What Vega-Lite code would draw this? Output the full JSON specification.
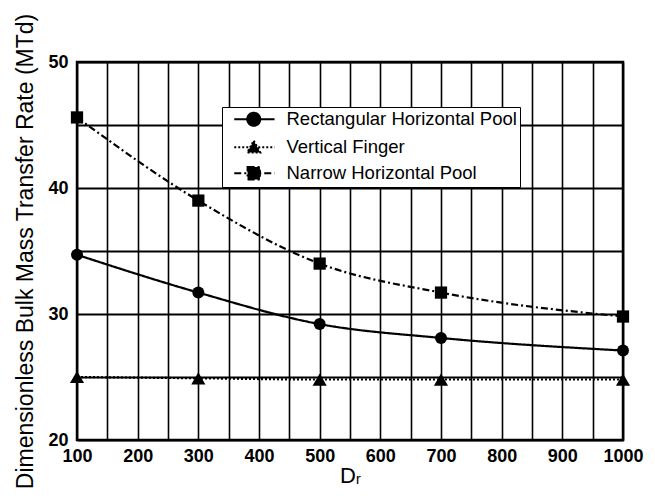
{
  "$schema": "https://vega.github.io/schema/vega-lite/v6.json",
  "width": 546,
  "height": 378,
  "autosize": {"type": "none"},
  "padding": {"left": 77, "top": 62, "right": 32, "bottom": 62},
  "background": "white",
  "config": {
    "view": {"stroke": "black", "strokeWidth": 2.5},
    "font": "Liberation Sans"
  },
  "data": {
    "values": [
      {"series": "Rectangular Horizontal Pool", "Dr": 100, "M": 34.7},
      {"series": "Rectangular Horizontal Pool", "Dr": 300, "M": 31.7},
      {"series": "Rectangular Horizontal Pool", "Dr": 500, "M": 29.2},
      {"series": "Rectangular Horizontal Pool", "Dr": 700, "M": 28.1},
      {"series": "Rectangular Horizontal Pool", "Dr": 1000, "M": 27.1},
      {"series": "Vertical Finger", "Dr": 100, "M": 25.0},
      {"series": "Vertical Finger", "Dr": 300, "M": 24.9},
      {"series": "Vertical Finger", "Dr": 500, "M": 24.8},
      {"series": "Vertical Finger", "Dr": 700, "M": 24.8},
      {"series": "Vertical Finger", "Dr": 1000, "M": 24.8},
      {"series": "Narrow Horizontal Pool", "Dr": 100, "M": 45.6},
      {"series": "Narrow Horizontal Pool", "Dr": 300, "M": 39.0},
      {"series": "Narrow Horizontal Pool", "Dr": 500, "M": 34.0},
      {"series": "Narrow Horizontal Pool", "Dr": 700, "M": 31.7},
      {"series": "Narrow Horizontal Pool", "Dr": 1000, "M": 29.8}
    ]
  },
  "encoding": {
    "x": {
      "field": "Dr",
      "type": "quantitative",
      "scale": {"domain": [100, 1000], "nice": false, "zero": false},
      "axis": {
        "values": [100, 150, 200, 250, 300, 350, 400, 450, 500, 550, 600, 650, 700, 750, 800, 850, 900, 950, 1000],
        "format": "d",
        "labelExpr": "datum.value % 100 === 0 ? datum.label : ''",
        "title": "Dᵣ",
        "grid": true,
        "gridColor": "black",
        "gridWidth": 1.6,
        "gridOpacity": 1,
        "ticks": false,
        "domain": false,
        "labelFontSize": 18,
        "labelFontWeight": "bold",
        "labelColor": "black",
        "labelPadding": 7,
        "labelFlush": false,
        "labelOverlap": false,
        "titleFontSize": 22,
        "titleFontWeight": "normal",
        "titleColor": "black",
        "titlePadding": 0
      }
    },
    "y": {
      "field": "M",
      "type": "quantitative",
      "scale": {"domain": [20, 50], "nice": false, "zero": false},
      "axis": {
        "values": [20, 25, 30, 35, 40, 45, 50],
        "labelExpr": "datum.value % 10 === 0 ? datum.label : ''",
        "title": "Dimensionless Bulk Mass Transfer Rate (MTd)",
        "grid": true,
        "gridColor": "black",
        "gridWidth": 2,
        "gridOpacity": 1,
        "ticks": false,
        "domain": false,
        "labelFontSize": 18,
        "labelFontWeight": "bold",
        "labelColor": "black",
        "labelPadding": 9,
        "labelFlush": false,
        "labelOverlap": false,
        "titleFontSize": 23,
        "titleFontWeight": "normal",
        "titleColor": "black",
        "titlePadding": 10
      }
    }
  },
  "layer": [
    {
      "mark": {"type": "line", "interpolate": "monotone", "color": "black", "strokeWidth": 2.2},
      "encoding": {
        "strokeDash": {
          "field": "series",
          "type": "nominal",
          "scale": {
            "domain": ["Rectangular Horizontal Pool", "Vertical Finger", "Narrow Horizontal Pool"],
            "range": [[1, 0], [2, 2], [7, 3, 2, 3]]
          },
          "legend": {
            "title": null,
            "orient": "none",
            "legendX": 145,
            "legendY": 45,
            "strokeColor": "black",
            "fillColor": "white",
            "padding": 3,
            "labelFontSize": 18.5,
            "labelFontWeight": "normal",
            "labelLimit": 400,
            "labelColor": "black",
            "labelFont": "Liberation Sans",
            "symbolSize": 169,
            "symbolType": "M0,0H6.2M2,0A1,1 0 1,0 4,0A1,1 0 1,0 2,0Z",
            "labelOffset": 43,
            "rowPadding": 6,
            "symbolStrokeWidth": 2,
            "symbolStrokeColor": "black",
            "symbolFillColor": "black",
            "encode": {
              "symbols": {
                "update": {
                  "shape": {"signal": "datum.value === 'Rectangular Horizontal Pool' ? 'M0,0H6.2M2,0A1,1 0 1,0 4,0A1,1 0 1,0 2,0Z' : datum.value === 'Vertical Finger' ? 'M0,0H6.2M3,-1L4,0.8L2,0.8Z' : 'M0,0H6.2M2.05,-0.95H3.95V0.95H2.05Z'"},
                  "fill": {"value": "black"},
                  "stroke": {"value": "black"}
                }
              }
            }
          }
        }
      }
    },
    {
      "transform": [{"filter": "datum.series === 'Rectangular Horizontal Pool'"}],
      "mark": {"type": "point", "filled": true, "color": "black", "size": 144, "opacity": 1, "shape": "circle"}
    },
    {
      "transform": [{"filter": "datum.series === 'Vertical Finger'"}],
      "mark": {"type": "point", "filled": true, "color": "black", "size": 200, "opacity": 1, "shape": "triangle-up"}
    },
    {
      "transform": [{"filter": "datum.series === 'Narrow Horizontal Pool'"}],
      "mark": {"type": "point", "filled": true, "color": "black", "size": 150, "opacity": 1, "shape": "square"}
    }
  ]
}
